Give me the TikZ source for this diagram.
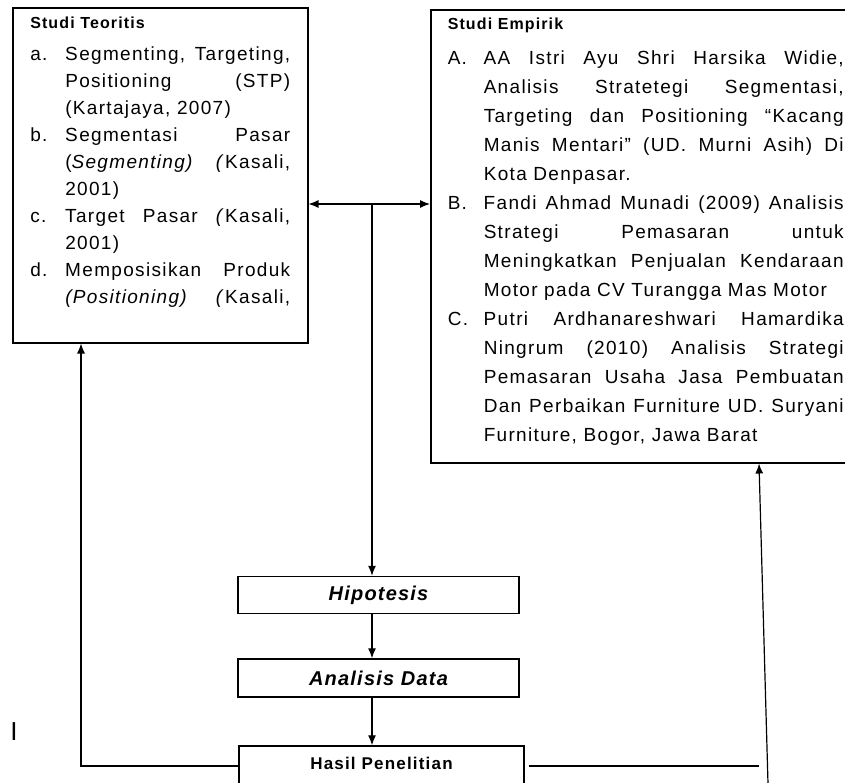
\documentclass[tikz,border=0pt]{standalone}
\usepackage{fontspec}
\setmainfont{Liberation Sans}
\newfontfamily\isifont{Liberation Sans}[LetterSpace=7]
\newfontfamily\tahapfont{Liberation Sans}[LetterSpace=6]
\usetikzlibrary{arrows.meta}

% baris rata kiri-kanan dan butir daftar
\newlength\isilebar
\newcommand\jl[1]{\makebox[\isilebar][s]{#1}}
\newcommand\ent[3]{\par\noindent\hangindent=#1\hangafter=1\makebox[#1][l]{#2}#3\par}

\begin{document}
\begin{tikzpicture}[
        x=1pt, y=-1pt,
        studibox/.style={rectangle, draw=black, line width=1.5pt, inner sep=0pt, anchor=north west},
        tahapbox/.style={rectangle, draw=black, line width=1.5pt, inner sep=0pt, minimum width=281pt, minimum height=37pt},
        panah/.style={-{Latex[length=10pt,width=8pt]}, line width=1.2pt},
        panahdua/.style={{Latex[length=10pt,width=8pt]}-{Latex[length=10pt,width=8pt]}, line width=1.2pt},
        garis/.style={line width=1.2pt}
    ]
    \useasboundingbox (0,0) rectangle (845,782);

    % Studi Teoritis
    \node[studibox, minimum width=295pt, minimum height=335pt] (teori) at (12,7) {%
        \begin{minipage}[c][335pt][t]{260pt}
        \setlength\isilebar{225pt}
        \isifont\fontsize{19}{27}\selectfont
        \rule{0pt}{21pt}{\bfseries\fontsize{16}{27}\selectfont Studi Teoritis}\par
        \vspace{5pt}
        \ent{35pt}{a.}{\jl{Segmenting, Targeting,}\\\jl{Positioning (STP)}\\(Kartajaya, 2007)}
        \ent{35pt}{b.}{\jl{Segmentasi Pasar}\\\jl{(\textit{Segmenting)} \textit{(}Kasali,}\\2001)}
        \ent{35pt}{c.}{\jl{Target Pasar \textit{(}Kasali,}\\2001)}
        \ent{35pt}{d.}{\jl{Memposisikan Produk}\\\jl{\textit{(Positioning)} \textit{(}Kasali,}}
        \end{minipage}};

    % Studi Empirik
    \node[studibox, minimum width=430pt, minimum height=453pt] (empiris) at (430,9) {%
        \begin{minipage}[c][453pt][t]{396pt}
        \setlength\isilebar{360pt}
        \isifont\fontsize{19}{29}\selectfont
        \rule{0pt}{20pt}{\bfseries\fontsize{16}{29}\selectfont Studi Empirik}\par
        \vspace{6pt}
        \ent{36pt}{A.}{\jl{AA Istri Ayu Shri Harsika Widie,}\\\jl{Analisis Stratetegi Segmentasi,}\\\jl{Targeting dan Positioning “Kacang}\\\jl{Manis Mentari” (UD. Murni Asih) Di}\\Kota Denpasar.}
        \ent{36pt}{B.}{\jl{Fandi Ahmad Munadi (2009) Analisis}\\\jl{Strategi Pemasaran untuk}\\\jl{Meningkatkan Penjualan Kendaraan}\\Motor pada CV Turangga Mas Motor}
        \ent{36pt}{C.}{\jl{Putri Ardhanareshwari Hamardika}\\\jl{Ningrum (2010) Analisis Strategi}\\\jl{Pemasaran Usaha Jasa Pembuatan}\\\jl{Dan Perbaikan Furniture UD. Suryani}\\Furniture, Bogor, Jawa Barat}
        \end{minipage}};

    % Tahapan
    \node[tahapbox] (hipotesis) at (378.5,595) {\tahapfont\fontsize{20}{22}\selectfont\bfseries\itshape Hipotesis};
    \node[tahapbox, minimum height=38pt] (analisis) at (378.5,678) {\tahapfont\fontsize{20}{22}\selectfont\bfseries\itshape Analisis Data};
    \node[tahapbox, minimum width=285pt, minimum height=40pt] (hasil) at (381.5,766) {\raisebox{5pt}{\isifont\fontsize{17}{18}\selectfont\bfseries Hasil Penelitian}};

    \node (kursor) at (14,732) {\fontsize{26}{28}\selectfont I};

    % Arrows
    \coordinate (simpul) at (372,204);
    \draw[panahdua] (simpul -| teori.east) -- (simpul -| empiris.west);
    \draw[panah] (simpul) -- (simpul |- hipotesis.north);
    \draw[panah] (simpul |- hipotesis.south) -- (simpul |- analisis.north);
    \draw[panah] (simpul |- analisis.south) -- (simpul |- hasil.north);

    % Umpan balik
    \coordinate (kiri) at (81,0);
    \draw[panah] (hasil.west) -| (kiri |- teori.south);
    \coordinate (kananatas) at (759,0);
    \coordinate (kananbawah) at (768,784);
    \draw[garis] ([xshift=4pt]hasil.east) -- (hasil.east -| kananatas);
    \draw[panah] (kananbawah) -- (kananatas |- empiris.south);

\end{tikzpicture}
\end{document}
